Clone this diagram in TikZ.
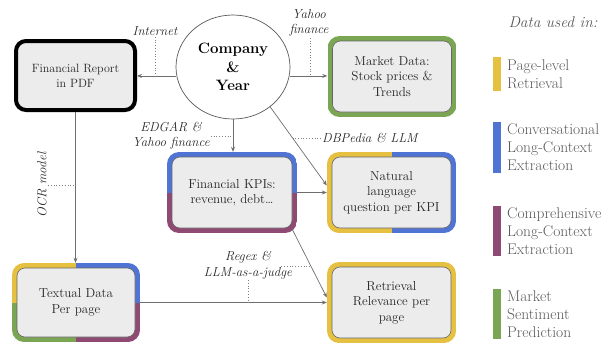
\documentclass[tikz,border=0pt]{standalone}
\usetikzlibrary{arrows.meta,calc,shapes.geometric}
\definecolor{cyel}{RGB}{230,192,64}
\definecolor{cblu}{RGB}{80,116,212}
\definecolor{cpur}{RGB}{142,74,114}
\definecolor{cgrn}{RGB}{122,165,82}
\definecolor{boxfill}{RGB}{236,236,236}
\definecolor{linegray}{RGB}{110,110,110}
\tikzset{
 cbox/.style n args={4}{rectangle, rounded corners=12pt, minimum width=129pt, minimum height=81pt,
  align=center, inner sep=0pt, font=\fontsize{13}{15.5}\selectfont, text=black!85,
  path picture={
   \fill[#1, sharp corners] (path picture bounding box.north west) rectangle (path picture bounding box.center);
   \fill[#2, sharp corners] (path picture bounding box.north east) rectangle (path picture bounding box.center);
   \fill[#3, sharp corners] (path picture bounding box.south west) rectangle (path picture bounding box.center);
   \fill[#4, sharp corners] (path picture bounding box.south east) rectangle (path picture bounding box.center);
   \filldraw[fill=boxfill, draw=black!60, line width=0.6pt, rounded corners=8pt]
     ([shift={(5pt,5pt)}]path picture bounding box.south west) rectangle
     ([shift={(-5pt,-5pt)}]path picture bounding box.north east);
  }},
 frbox/.style={rectangle, rounded corners=10pt, draw=black, line width=4pt, fill=boxfill,
  minimum width=119pt, minimum height=69pt, align=center, inner sep=0pt,
  font=\fontsize{12}{15}\selectfont, text=black!85},
 ellnode/.style={ellipse, draw=black!65, line width=0.7pt, fill=white, minimum width=114pt,
  minimum height=104pt, inner sep=0pt, align=center, font=\bfseries\fontsize{15}{18.5}\selectfont},
 arr/.style={draw=linegray, line width=0.7pt, -{Stealth[length=5pt,width=4pt]}},
 dots/.style={draw=black!50, line width=0.6pt, dash pattern=on 0.8pt off 2pt},
 lab/.style={font=\itshape\fontsize{13}{15.5}\selectfont, align=center, text=black!85, inner sep=1pt},
 legt/.style={font=\fontsize{15.5}{18}\selectfont, text=black!65, align=left, anchor=west, inner sep=0pt},
 legbar/.style={rectangle, minimum width=8pt, inner sep=0pt, draw=none},
}
\begin{document}
\begin{tikzpicture}[x=1pt,y=-1pt]
\useasboundingbox (0,0) rectangle (616,343);

% main nodes
\node[frbox] (fr) at (75.5,75.5) {Financial Report\\in PDF};
\node[ellnode] (ell) at (233,67) {Company\\\&\\Year};
\node[cbox={cgrn}{cgrn}{cgrn}{cgrn}] (mkt) at (392,76.5) {Market Data:\\Stock prices \&\\Trends};
\node[cbox={cblu}{cblu}{cpur}{cpur}, minimum width=130pt] (kpi) at (232,192.5) {Financial KPIs:\\revenue, debt\ldots};
\node[cbox={cyel}{cblu}{cyel}{cblu}] (nat) at (391.5,192.5) {Natural\\language\\question per KPI};
\node[cbox={cyel}{cyel}{cyel}{cyel}] (ret) at (391.5,302.5) {Retrieval\\Relevance per\\page};
\node[cbox={cyel}{cblu}{cgrn}{cpur}, minimum width=128pt, minimum height=79pt] (txt) at (76,302.5) {Textual Data\\Per page};

% connectors
\draw[arr] (ell.189) -- (ell.189 -| fr.east);
\draw[arr] (ell.351) -- (ell.351 -| mkt.west);
\draw[arr] (ell.south) -- (ell.south |- kpi.north);
\draw[arr] (ell.-47) -- ([yshift=7pt]nat.west);
\draw[arr] (kpi.east) -- (nat.west);
\draw[arr] ([shift={(-5pt,4pt)}]kpi.south east) -- ([yshift=5pt]ret.west);
\draw[arr] (txt.east) -- (ret.west);
\draw[arr] (fr.south) -- (fr.south |- txt.north);

% labels
\node[lab] (lint) at (155,31) {Internet};
\draw[dots] (lint.south) -- (lint.south |- ell.189);
\node[lab] (lyf) at (309,23) {Yahoo\\finance};
\draw[dots] ([xshift=1pt]lyf.south) -- ([xshift=1pt]lyf.south |- ell.351);
\node[lab] (led) at (171,135.5) {EDGAR \&\\Yahoo finance};
\draw[dots] ([yshift=-1pt]led.east) -- ([yshift=-1pt]led.east -| ell.south);
\node[lab, anchor=west] (ldb) at (321,138) {DBPedia \& LLM};
\coordinate (dbx) at ($(ell.-47)!0.40!([yshift=7pt]nat.west)$);
\draw[dots] (ldb.west) -- (ldb.west -| dbx);
\node[lab] (lrx) at (248,265) {Regex \&\\LLM-as-a-judge};
\coordinate (rxx) at ($([shift={(-5pt,4pt)}]kpi.south east)!0.54!([yshift=5pt]ret.west)$);
\draw[dots] ([shift={(-12pt,-1pt)}]lrx.east) -- ([yshift=-1pt]lrx.east -| rxx);
\draw[dots] (lrx.south) -- (lrx.south |- txt.east);
\node[lab, rotate=90] (locr) at (42,185) {OCR model};
\draw[dots] (locr.south) -- (locr.south -| fr.south);

% legend
\node[font=\itshape\fontsize{15.5}{18}\selectfont, text=black!65, inner sep=0pt] (lhead) at (553,22) {Data used in:};
\node[legbar, fill=cyel, minimum height=34pt] (b1) at (497,74) {};
\node[legt] (t1) at (507,74) {Page-level\\Retrieval};
\node[legbar, fill=cblu, minimum height=51pt] (b2) at (497,147.5) {};
\node[legt] (t2) at (507,147.5) {Conversational\\Long-Context\\Extraction};
\node[legbar, fill=cpur, minimum height=50pt] (b3) at (497,231) {};
\node[legt] (t3) at (507,231) {Comprehensive\\Long-Context\\Extraction};
\node[legbar, fill=cgrn, minimum height=50pt] (b4) at (497,314) {};
\node[legt] (t4) at (507,314) {Market\\Sentiment\\Prediction};
\end{tikzpicture}
\end{document}
